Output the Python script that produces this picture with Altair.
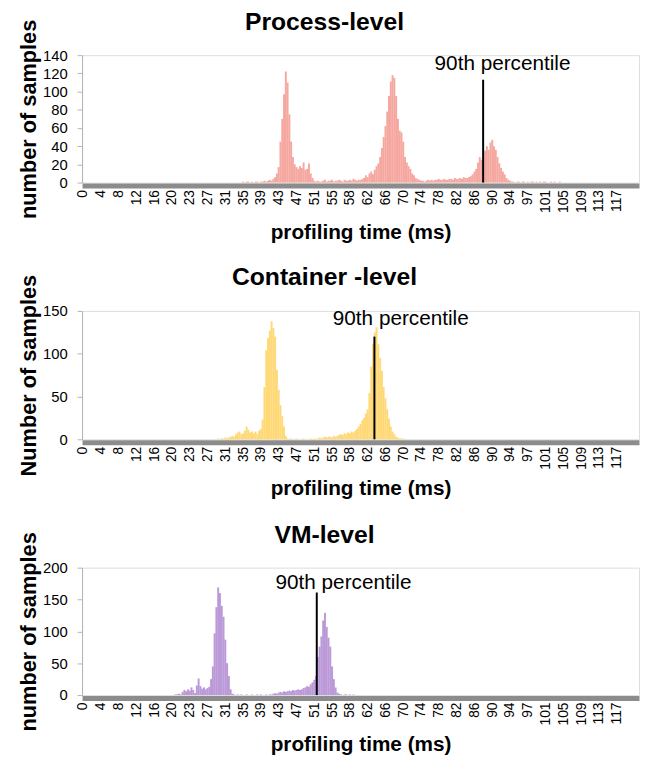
import json
import altair as alt
import pandas as pd

FONT = "Liberation Sans"
N_BINS = 313  # 0.39 ms bins, 0 .. ~122 ms
TICK_LABELS = ["0", "4", "8", "12", "16", "20", "23", "27", "31", "35", "39",
               "43", "47", "51", "55", "58", "62", "66", "70", "74", "78", "82",
               "86", "90", "94", "97", "101", "105", "109", "113", "117"]
TICK_BINS = list(range(0, 301, 10))

# ---- Process-level histogram (counts per bin, starting at bin 90)
PROC_START = 90
PROC_COUNTS = [1, 0, 1, 1, 0, 1, 0, 1, 1, 0, 1, 1,
               2, 1, 2, 3, 2, 4, 6,
               10, 17, 45, 70, 97, 122, 110, 75, 45, 28, 20, 17, 15, 18, 16, 22, 14, 15, 21, 10, 5, 2,
               1, 2, 1, 1, 2, 3, 1, 2, 2, 3, 1, 2, 2, 3, 2, 1, 3, 2, 2, 3, 2, 4, 3, 2, 3, 3, 4, 5,
               8, 6, 10, 12, 9, 14, 18, 21, 28, 38, 50, 62, 78, 95, 111, 118, 115, 95, 70, 57, 55, 45,
               28, 22, 18, 15, 10, 8, 5, 4, 3, 2,
               2, 1, 2, 3, 2, 3, 2, 3, 3, 4, 3, 3, 4, 3, 3, 4, 4, 3, 5, 4, 4, 5, 4, 6, 5, 5, 6, 7, 9,
               12, 15, 22, 28, 25, 33, 35, 40, 36, 44, 47, 40, 36, 28, 21, 16, 12, 9, 5, 3, 2,
               1, 1, 0, 1, 1, 0, 1, 1, 0, 1, 0, 1, 1, 0, 1, 0, 1, 0, 1, 1, 0, 0, 1, 0, 1, 0, 0, 1, 0]

# ---- Container-level histogram (starting at bin 76)
CONT_START = 76
CONT_COUNTS = [1, 0, 1, 1, 2, 1, 2,
               3, 4, 3, 6, 8, 9, 6, 7, 10, 15, 11, 8, 9, 7, 9, 6, 10, 12, 23, 61, 104, 118, 127, 138,
               130, 120, 81, 58, 40, 27, 15, 4, 1,
               0, 1, 0, 0, 1, 0, 0, 0, 1, 0, 0, 0, 1, 0, 1, 0,
               1, 2, 1, 2, 3, 2, 3, 3, 2, 4, 3, 4, 5, 6, 5, 7, 6, 8, 7, 9, 8, 10, 12,
               15, 18, 22, 25, 30, 35, 54, 85, 111, 125, 131, 111, 95, 80, 61, 48, 35, 24, 15, 9, 6,
               3, 2, 1, 1, 1]

# ---- VM-level histogram (starting at bin 52)
VM_START = 52
VM_COUNTS = [1, 1, 2, 1,
             5, 8, 6, 9, 7, 12, 8, 3, 15, 26, 14, 10, 12, 9, 11, 13, 25, 45, 97, 138, 169, 160, 140,
             123, 87, 50, 30, 9, 2, 1, 0, 1,
             0, 1, 0, 0, 1, 0, 0, 1, 0, 0, 1, 0, 1, 0, 0, 1, 0,
             1, 1, 2, 3, 2, 4, 5, 4, 6, 5, 6, 7, 6, 8, 7, 8, 9, 8, 9,
             11, 12, 14, 13, 17, 20, 24, 30, 60, 76, 92, 117, 129, 107, 90, 76, 45, 25, 12, 4, 2,
             1, 0, 1, 1, 0, 1, 0, 1]

# ---- 90th percentile markers: bin position, line top, label position
P90_BIN = [224.9, 163.8, 131.4]
P90_TOP = [113, 120, 161]
P90_TEXT_BIN = [235.8, 178.6, 146.4]
P90_TEXT_VAL = [124, 133, 167]

TITLES = ["Process-level", "Container -level", "VM-level"]
Y_TITLES = ["number of samples", "Number of samples", "number of samples"]
Y_MAX = [140, 150, 200]
Y_TICKS = [list(range(0, 141, 20)), [0, 50, 100, 150], [0, 50, 100, 150, 200]]
HEIGHTS = [129, 130, 129]
COLORS = ["#F4A39B", "#FFD770", "#B794D6"]

label_expr = json.dumps(TICK_LABELS) + "[round(datum.value / 10)]"


def make_df(start, counts):
    return pd.DataFrame({"bin": list(range(start, start + len(counts))), "count": counts})


def panel(i, df):
    xscale = alt.Scale(domain=[-0.5, N_BINS - 0.5], nice=False, zero=False)
    yscale = alt.Scale(domain=[0, Y_MAX[i]], nice=False)
    xaxis = alt.Axis(values=TICK_BINS, labelExpr=label_expr, labelAngle=270,
                     labelFontSize=14, labelFont=FONT, labelColor="black",
                     ticks=False, tickSize=0, domainColor="#8c8c8c", domainWidth=5,
                     offset=3, labelPadding=4, grid=False, labelOverlap=False,
                     labelFlush=False, titleFontSize=21, titleFont=FONT,
                     titleFontWeight="bold", titleColor="black", titlePadding=9)
    yaxis = alt.Axis(values=Y_TICKS[i], grid=False, domainColor="#b3b3b3",
                     tickColor="#b3b3b3", tickSize=5, labelPadding=10,
                     labelFontSize=15, labelFont=FONT, labelColor="black",
                     titleFontSize=22, titleFont=FONT, titleFontWeight="bold",
                     titleColor="black", titlePadding=2)
    xtitle = "profiling time (ms)"
    bars = alt.Chart(df).transform_calculate(
        x0="datum.bin - 0.55", x1="datum.bin + 0.55"
    ).mark_rect(color=COLORS[i], opacity=0.95).encode(
        x=alt.X("x0:Q", scale=xscale, axis=xaxis, title=xtitle),
        x2="x1:Q",
        y=alt.Y("count:Q", scale=yscale, axis=yaxis, title=Y_TITLES[i]),
        y2=alt.datum(0),
    )
    mk = pd.DataFrame({"bin": [P90_BIN[i]], "top": [P90_TOP[i]],
                       "tb": [P90_TEXT_BIN[i]], "tv": [P90_TEXT_VAL[i]],
                       "label": ["90th percentile"]})
    rule = alt.Chart(mk).mark_rule(color="black", strokeWidth=2).encode(
        x=alt.X("bin:Q", scale=xscale, axis=xaxis, title=xtitle),
        y=alt.Y("top:Q", scale=yscale, axis=yaxis, title=Y_TITLES[i]),
        y2=alt.datum(0),
    )
    text = alt.Chart(mk).mark_text(font=FONT, fontSize=21, color="black",
                                   align="center", baseline="alphabetic").encode(
        x=alt.X("tb:Q", scale=xscale, axis=xaxis, title=xtitle),
        y=alt.Y("tv:Q", scale=yscale, axis=yaxis, title=Y_TITLES[i]),
        text="label:N",
    )
    return alt.layer(bars, rule, text).properties(
        width=564, height=HEIGHTS[i],
        title=alt.TitleParams(TITLES[i], fontSize=25, font=FONT, fontWeight="bold",
                              color="black", anchor="middle", frame="bounds",
                              offset=0, dy=16, dx=-4),
    )


dfs = [make_df(PROC_START, PROC_COUNTS), make_df(CONT_START, CONT_COUNTS),
       make_df(VM_START, VM_COUNTS)]

chart = alt.vconcat(*[panel(i, dfs[i]) for i in range(3)], spacing=130,
                    bounds="flush").properties(
    padding={"left": 9, "top": -3, "right": 0, "bottom": 0}
).configure_view(stroke=None).configure(font=FONT)

chart.save("out.html", embed_options={"renderer": "svg", "actions": False})
